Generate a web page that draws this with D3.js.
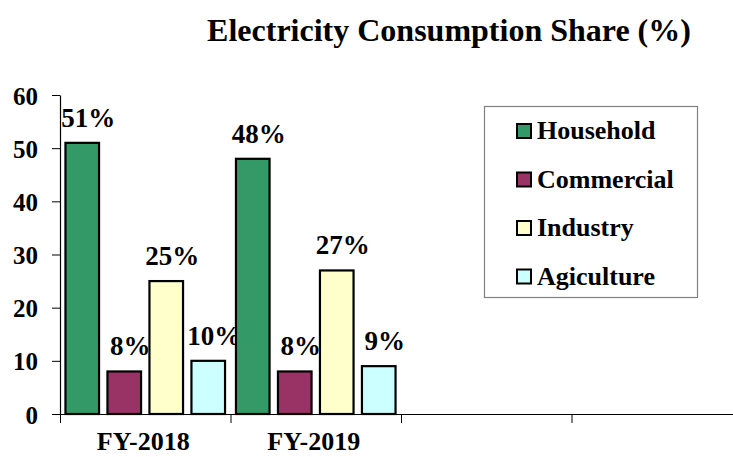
<!DOCTYPE html>
<html>
<head>
<meta charset="utf-8">
<script src="https://cdn.jsdelivr.net/npm/d3@7"></script>
<style>
  body { margin: 0; background: #fff; }
  text { font-family: "Liberation Serif", "Times New Roman", serif; font-weight: bold; fill: #000; }
</style>
</head>
<body>
<script>
var categories = ["FY-2018", "FY-2019"];
var slots = 4; // the x axis has room for four years, only two are filled
var series = ["Household", "Commercial", "Industry", "Agiculture"];
var colors = ["#339966", "#993366", "#FFFFCC", "#CCFFFF"];
var household = [51, 48];
var commercial = [8, 8];
var industry = [25, 27];
var agriculture = [10, 9];
var yTicks = [0, 10, 20, 30, 40, 50, 60];

var width = 733,
	height = 457;

var svg = d3.select("body").append("svg")
	.attr("width", width)
	.attr("height", height);

var values = [household, commercial, industry, agriculture];
var data = categories.map(function(c, i){
	return { cat: i, bars: series.map(function(s, j){ return { key: s, value: values[j][i] }; }) };
});

var x0 = d3.scaleBand().domain(d3.range(slots)).range([60, 742]).padding(0);
var x1 = d3.scaleBand().domain(series).range([0, x0.bandwidth()])
	.paddingInner(0.2).paddingOuter(0.13);
var xEdge = d3.scaleLinear().domain([0, slots]).range([60, 742]);
var y = d3.scaleLinear().domain([0, 60]).range([414, 95]);
var color = d3.scaleOrdinal().domain(series).range(colors);

// title
svg.append("text")
	.attr("x", 449)
	.attr("y", 41)
	.attr("text-anchor", "middle")
	.style("font-size", "32px")
	.text("Electricity Consumption Share (%)");

// y axis
var yAxis = svg.append("g")
	.attr("transform", "translate(60,0)")
	.call(d3.axisLeft(y).tickValues(yTicks).tickSize(8).tickSizeOuter(0).tickPadding(14));
yAxis.select(".domain").attr("stroke", "#000").attr("stroke-width", 1.2);
yAxis.selectAll(".tick line").attr("stroke", "#000");
yAxis.selectAll(".tick text")
	.style("font-size", "25px")
	.style("font-family", "'Liberation Serif', serif")
	.style("font-weight", "bold")
	.attr("dy", "0.36em");

// x axis: ticks on category boundaries
var xAxis = svg.append("g")
	.attr("transform", "translate(0,414)")
	.call(d3.axisBottom(xEdge).tickValues(d3.range(slots + 1)).tickSize(9).tickSizeOuter(0).tickFormat(""));
xAxis.select(".domain").attr("stroke", "#000").attr("stroke-width", 1.2);
xAxis.selectAll(".tick line").attr("stroke", "#000");

svg.selectAll(".cat-label")
	.data(categories)
	.enter().append("text")
	.attr("class", "cat-label")
	.attr("x", function(d, i){ return x0(i) + x0.bandwidth() / 2 - 2; })
	.attr("y", 450)
	.attr("text-anchor", "middle")
	.style("font-size", "26px")
	.text(function(d){ return d; });

// bars
var groups = svg.selectAll(".group")
	.data(data)
	.enter().append("g")
	.attr("class", "group")
	.attr("transform", function(d){ return "translate(" + x0(d.cat) + ",0)"; });

groups.selectAll("rect")
	.data(function(d){ return d.bars; })
	.enter().append("rect")
	.attr("x", function(d){ return x1(d.key); })
	.attr("y", function(d){ return y(d.value); })
	.attr("width", x1.bandwidth())
	.attr("height", function(d){ return y(0) - y(d.value); })
	.attr("fill", function(d){ return color(d.key); })
	.attr("stroke", "#000")
	.attr("stroke-width", 2.2);

groups.selectAll(".val")
	.data(function(d){ return d.bars; })
	.enter().append("text")
	.attr("class", "val")
	.attr("x", function(d){ return x1(d.key) + x1.bandwidth() / 2 + 6; })
	.attr("y", function(d){ return y(d.value) - 16; })
	.attr("text-anchor", "middle")
	.style("font-size", "27px")
	.text(function(d){ return d.value + "%"; });

// legend
var legend = svg.append("g");
legend.append("rect")
	.attr("x", 484.5)
	.attr("y", 106.5)
	.attr("width", 213)
	.attr("height", 191)
	.attr("fill", "#fff")
	.attr("stroke", "#808080")
	.attr("stroke-width", 1.2);

var items = legend.selectAll(".item")
	.data(series)
	.enter().append("g")
	.attr("class", "item")
	.attr("transform", function(d, i){ return "translate(517," + (131 + i * 48.5) + ")"; });

items.append("rect")
	.attr("x", 0)
	.attr("y", -7)
	.attr("width", 14)
	.attr("height", 14)
	.attr("fill", function(d){ return color(d); })
	.attr("stroke", "#000")
	.attr("stroke-width", 2);

items.append("text")
	.attr("x", 20)
	.attr("y", 8)
	.style("font-size", "26px")
	.text(function(d){ return d; });
</script>
</body>
</html>
